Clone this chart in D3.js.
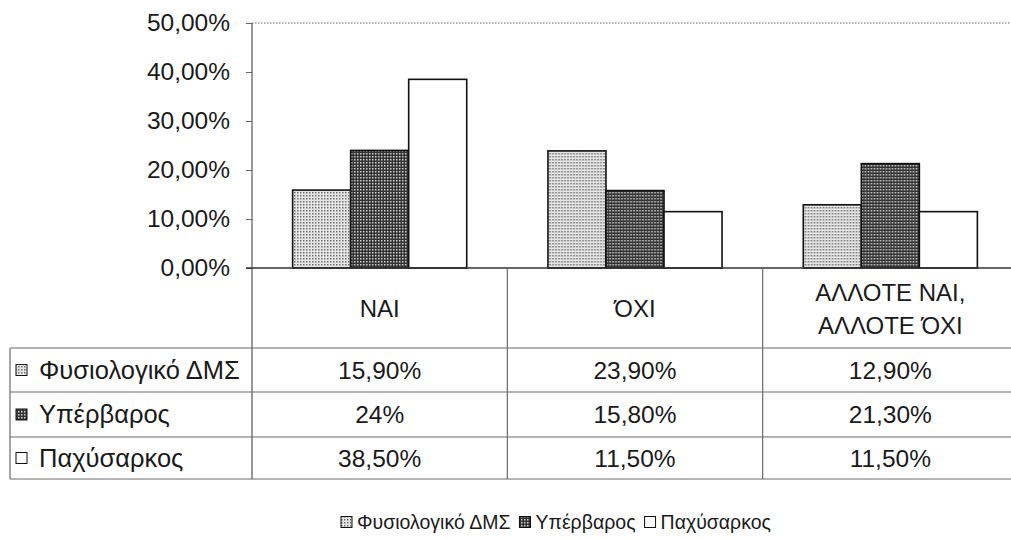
<!DOCTYPE html>
<html>
<head>
<meta charset="utf-8">
<script src="https://cdn.jsdelivr.net/npm/d3@7"></script>
<style>
  html, body { margin: 0; padding: 0; background: #fff; }
  svg { display: block; font-family: "Liberation Sans", Arial, sans-serif; }
</style>
</head>
<body>
<svg id="chart" width="1011" height="539"></svg>
<script>
// Answer categories (header row of the data table)
const categories = ["NAI", "ΌΧΙ", "ΑΛΛΟΤΕ ΝΑΙ,\nΑΛΛΟΤΕ ΌΧΙ"];
// BMI groups
const seriesNames = ["Φυσιολογικό ΔΜΣ", "Υπέρβαρος", "Παχύσαρκος"];
// Percent values per group, in category order
const normalValues = [15.9, 23.9, 12.9];
const overweightValues = [24.0, 15.8, 21.3];
const obeseValues = [38.5, 11.5, 11.5];
// Cell texts as printed in the data table
const normalLabels = ["15,90%", "23,90%", "12,90%"];
const overweightLabels = ["24%", "15,80%", "21,30%"];
const obeseLabels = ["38,50%", "11,50%", "11,50%"];
// Value axis ticks
const yTicks = [0, 10, 20, 30, 40, 50];
const yTickLabels = ["0,00%", "10,00%", "20,00%", "30,00%", "40,00%", "50,00%"];

const seriesValues = [normalValues, overweightValues, obeseValues];
const seriesLabels = [normalLabels, overweightLabels, obeseLabels];

const svg = d3.select("#chart");
const defs = svg.append("defs");

// Stipple fills for the two shaded series
const p1 = defs.append("pattern").attr("id", "fill-normal")
  .attr("width", 3).attr("height", 3).attr("patternUnits", "userSpaceOnUse");
p1.append("rect").attr("width", 3).attr("height", 3).attr("fill", "#e6e6e6");
p1.append("rect").attr("width", 1.5).attr("height", 1.5).attr("fill", "#707070");

const p2 = defs.append("pattern").attr("id", "fill-over")
  .attr("width", 3).attr("height", 3).attr("patternUnits", "userSpaceOnUse");
p2.append("rect").attr("width", 3).attr("height", 3).attr("fill", "#333");
p2.append("rect").attr("width", 1.5).attr("height", 1.5).attr("fill", "#cfcfcf");

const fills = ["url(#fill-normal)", "url(#fill-over)", "#ffffff"];

// Layout
const plotLeft = 252, plotRight = 1018, plotTop = 23, plotBottom = 268;
const tableLeft = 10;
const rowLines = [348, 392, 437, 479];

const y = d3.scaleLinear().domain([0, 50]).range([plotBottom, plotTop]);
const x0 = d3.scaleBand().domain(categories).range([plotLeft, plotRight]).padding(0);
const x1 = d3.scaleBand().domain(d3.range(seriesNames.length))
  .range([0, x0.bandwidth()]).paddingInner(0).paddingOuter(0.7);

// Top dotted border of the plot area
svg.append("line")
  .attr("x1", plotLeft).attr("x2", plotRight)
  .attr("y1", y(50)).attr("y2", y(50))
  .attr("stroke", "#666").attr("stroke-width", 1).attr("stroke-dasharray", "1.5,1.5");

// Value axis
const yAxis = d3.axisLeft(y).tickValues(yTicks)
  .tickFormat((d, i) => yTickLabels[i]).tickSize(6).tickPadding(16);
const gy = svg.append("g").attr("transform", `translate(${plotLeft},0)`).call(yAxis);
gy.select(".domain").remove();
gy.selectAll(".tick line").attr("stroke", "#666");
gy.selectAll(".tick text").attr("font-size", 24.5).attr("fill", "#1a1a1a")
  .attr("font-family", "'Liberation Sans', Arial, sans-serif");

// Bars
const groups = svg.append("g").selectAll("g").data(categories).join("g")
  .attr("transform", d => `translate(${x0(d)},0)`);
groups.selectAll("rect")
  .data((c, ci) => seriesValues.map((vals, si) => ({ si, v: vals[ci] })))
  .join("rect")
  .attr("x", d => x1(d.si))
  .attr("width", x1.bandwidth())
  .attr("y", d => y(d.v))
  .attr("height", d => y(0) - y(d.v))
  .attr("fill", d => fills[d.si])
  .attr("stroke", "#111").attr("stroke-width", 1.6);

// Left axis line running down through the table
svg.append("line")
  .attr("x1", plotLeft).attr("x2", plotLeft)
  .attr("y1", plotTop).attr("y2", rowLines[3])
  .attr("stroke", "#555").attr("stroke-width", 1.2);

// Baseline
svg.append("line")
  .attr("x1", plotLeft - 6).attr("x2", plotRight)
  .attr("y1", y(0)).attr("y2", y(0))
  .attr("stroke", "#333").attr("stroke-width", 1.4);

// Data table grid
const grid = svg.append("g").attr("stroke", "#6a6a6a").attr("stroke-width", 1.2);
rowLines.forEach(ry => {
  grid.append("line").attr("x1", tableLeft).attr("x2", plotRight).attr("y1", ry).attr("y2", ry);
});
grid.append("line").attr("x1", tableLeft).attr("x2", tableLeft)
  .attr("y1", rowLines[0]).attr("y2", rowLines[3]);
categories.slice(1).forEach(c => {
  grid.append("line").attr("x1", x0(c)).attr("x2", x0(c))
    .attr("y1", y(0)).attr("y2", rowLines[3]);
});

// Category headers
categories.forEach(c => {
  const lines = c.split("\n");
  const cx = x0(c) + x0.bandwidth() / 2;
  const cy = 309;
  const t = svg.append("text").attr("text-anchor", "middle")
    .attr("font-size", 24).attr("fill", "#1a1a1a");
  lines.forEach((ln, i) => {
    t.append("tspan").attr("x", cx)
      .attr("y", cy + (i - (lines.length - 1) / 2) * 33)
      .attr("dy", "0.35em").text(ln);
  });
});

// Table rows: swatch, series name, values
seriesNames.forEach((name, si) => {
  const top = rowLines[si], bot = rowLines[si + 1];
  const cy = (top + bot) / 2;
  svg.append("rect").attr("x", 16).attr("y", cy - 5.5).attr("width", 11).attr("height", 11)
    .attr("fill", fills[si]).attr("stroke", "#111").attr("stroke-width", 1);
  svg.append("text").attr("x", 39).attr("y", cy).attr("dy", "0.35em")
    .attr("font-size", 25.5).attr("fill", "#1a1a1a").text(name);
  categories.forEach((c, ci) => {
    svg.append("text").attr("x", x0(c) + x0.bandwidth() / 2).attr("y", cy).attr("dy", "0.35em")
      .attr("text-anchor", "middle").attr("font-size", 24.5).attr("fill", "#1a1a1a")
      .text(seriesLabels[si][ci]);
  });
});

// Legend
const legend = svg.append("g").attr("transform", "translate(341,522)");
let lx = 0;
seriesNames.forEach((name, si) => {
  legend.append("rect").attr("x", lx).attr("y", -5.5).attr("width", 11).attr("height", 11)
    .attr("fill", fills[si]).attr("stroke", "#111").attr("stroke-width", 1);
  const t = legend.append("text").attr("x", lx + 16).attr("y", 0).attr("dy", "0.35em")
    .attr("font-size", 19.5).attr("fill", "#1a1a1a").text(name);
  lx += 16 + t.node().getComputedTextLength() + 9;
});
</script>
</body>
</html>
